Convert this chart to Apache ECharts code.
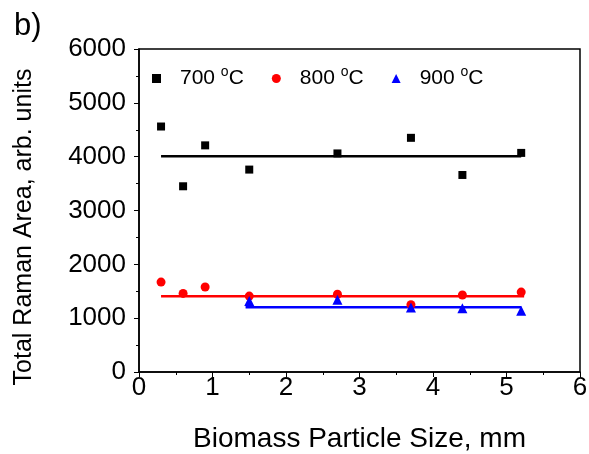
<!DOCTYPE html>
<html>
<head>
<meta charset="utf-8">
<script src="https://cdn.jsdelivr.net/npm/echarts@6/dist/echarts.min.js"></script>
<style>
  html, body { margin: 0; padding: 0; background: #fff; }
  #chart { width: 589px; height: 454px; }
</style>
</head>
<body>
<div id="chart"></div>
<script>
// particle size (mm) and Raman area readings
var sizes = [0.3, 0.6, 0.9, 1.5, 2.7, 3.7, 4.4, 5.2];
var area700 = [4560, 3450, 4210, 3760, 4060, 4350, 3660, 4070];
var area800 = [1670, 1460, 1580, 1410, 1445, 1250, 1430, 1485];
var sizes900 = [1.5, 2.7, 3.7, 4.4, 5.2];
var area900 = [1320, 1340, 1200, 1185, 1140];

// mean lines: [x start, x end], level
var fit700 = { x: [0.3, 5.2], y: 4010 };
var fit800 = { x: [0.3, 5.24], y: 1406 };
var fit900 = { x: [1.45, 5.2], y: 1201 };

var names = ['700', '800', '900'];
var colors = ['#000000', '#ff0000', '#0000ff'];

function pairs(xs, ys) {
    return xs.map(function (x, i) { return [x, ys[i]]; });
}
function fitLine(f) {
    return [[f.x[0], f.y], [f.x[1], f.y]];
}

var chart = echarts.init(document.getElementById('chart'));
var font = 'Liberation Sans, Arial, sans-serif';

var option = {
    animation: false,
    textStyle: { fontFamily: font },
    grid: {
        left: 139, right: 9, top: 49, bottom: 82,
        outerBoundsMode: 'none',
        show: true, borderColor: '#000', borderWidth: 1.5
    },
    legend: {
        left: 147, top: 60,
        itemWidth: 9, itemHeight: 9, itemGap: 28,
        data: names,
        formatter: function (n) { return '{a|' + n + ' }{s|o}{a|C}'; },
        textStyle: {
            padding: [0, 0, 0, 14],
            rich: {
                a: { fontSize: 21, color: '#000', fontFamily: font },
                s: { fontSize: 14, color: '#000', fontFamily: font, padding: [0, 0, 13, 0] }
            }
        }
    },
    xAxis: {
        type: 'value', min: 0, max: 6, interval: 1,
        name: 'Biomass Particle Size, mm',
        nameLocation: 'middle', nameGap: 53,
        nameTextStyle: { fontSize: 28, color: '#000' },
        axisLine: { lineStyle: { color: '#000', width: 1.5 } },
        axisTick: { inside: false, length: 5, lineStyle: { color: '#000' } },
        minorTick: { show: true, splitNumber: 2, length: 3, lineStyle: { color: '#000' } },
        axisLabel: { fontSize: 26, color: '#000', margin: 3 },
        splitLine: { show: false }
    },
    yAxis: {
        type: 'value', min: 0, max: 6000, interval: 1000,
        axisLine: { show: true, lineStyle: { color: '#000', width: 1.5 } },
        axisTick: { show: true, inside: false, length: 5, lineStyle: { color: '#000' } },
        minorTick: { show: true, splitNumber: 2, length: 3, lineStyle: { color: '#000' } },
        axisLabel: { fontSize: 26, color: '#000', margin: 13, formatter: function (v) { return String(v); } },
        splitLine: { show: false }
    },
    graphic: [
        {
            type: 'text', left: 14, top: 11,
            style: { text: 'b)', fontSize: 31, fill: '#000', fontFamily: font }
        },
        {
            type: 'text', x: 24, y: 227, rotation: Math.PI / 2,
            style: {
                text: 'Total Raman Area, arb. units', fontSize: 25, fill: '#000',
                fontFamily: font, align: 'center', verticalAlign: 'middle'
            }
        }
    ],
    series: [
        { type: 'line', data: fitLine(fit700), symbol: 'none', lineStyle: { color: colors[0], width: 2.5 }, z: 1, silent: true },
        { type: 'line', data: fitLine(fit800), symbol: 'none', lineStyle: { color: colors[1], width: 2.5 }, z: 1, silent: true },
        { type: 'line', data: fitLine(fit900), symbol: 'none', lineStyle: { color: colors[2], width: 2.5 }, z: 1, silent: true },
        { name: '700', type: 'scatter', symbol: 'rect', symbolSize: 8, data: pairs(sizes, area700), itemStyle: { color: colors[0], opacity: 1 }, z: 3 },
        { name: '800', type: 'scatter', symbol: 'circle', symbolSize: 9, data: pairs(sizes, area800), itemStyle: { color: colors[1], opacity: 1 }, z: 3 },
        { name: '900', type: 'scatter', symbol: 'triangle', symbolSize: 10, data: pairs(sizes900, area900), itemStyle: { color: colors[2], opacity: 1 }, z: 3 }
    ]
};

chart.setOption(option);
</script>
</body>
</html>
